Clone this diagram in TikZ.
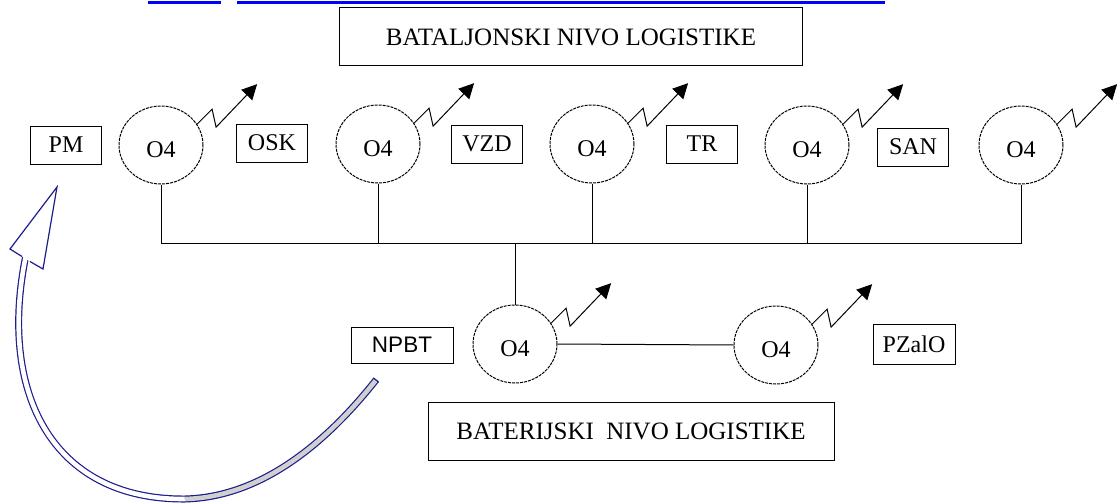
\documentclass[tikz,border=0pt]{standalone}
\usepackage{fontspec}
\setmainfont{Liberation Serif}
\newfontfamily\sansfont{Liberation Sans}
\usepackage{tikz}
\usetikzlibrary{arrows.meta,calc,shapes.geometric,positioning}

\definecolor{strelicaplava}{RGB}{28,28,140}
\definecolor{linkplava}{RGB}{0,0,255}
\definecolor{punjenje}{RGB}{208,208,208}

\tikzset{
  nivo/.style={draw, minimum height=58pt, inner sep=0pt, font=\fontsize{25}{28}\selectfont},
  oznaka/.style={draw, minimum width=71pt, minimum height=38pt, inner sep=0pt, font=\fontsize{24}{26}\selectfont},
  stanica/.style={draw, ellipse, dash pattern=on 3pt off 1pt, minimum width=84pt, minimum height=78pt, inner sep=0pt, text height=26pt, font=\fontsize{24}{26}\selectfont},
  radio/.style={-{Triangle[length=15pt,width=15pt]}},
  strelica/.style={draw=strelicaplava},
}

\begin{document}
\begin{tikzpicture}[x=1pt, y=-1pt, line width=1pt]
\useasboundingbox (0,0) rectangle (1117,503);

% ostatak linka
\draw[linkplava, line width=3pt] (148,3) -- (221,3);
\draw[linkplava, line width=3pt] (237,3) -- (885,3);

% nivoi
\node[nivo, minimum width=463pt] (bat) at (571,37) {BATALJONSKI NIVO LOGISTIKE};
\node[nivo, minimum width=406pt] (bter) at (631,431) {BATERIJSKI\ \ NIVO LOGISTIKE};

% stanice
\node[stanica] (c1) at (161,145) {O4};
\node[stanica] (c2) at (378,144) {O4};
\node[stanica] (c3) at (592,144) {O4};
\node[stanica] (c4) at (807,145) {O4};
\node[stanica] (c5) at (1021,145) {O4};
\node[stanica] (bA) at (515,344) {O4};
\node[stanica] (bB) at (776,345) {O4};

% oznake
\node[oznaka] (pm) at (66,145) {PM};
\node[oznaka] (osk) at (272,143) {OSK};
\node[oznaka] (vzd) at (487,144) {VZD};
\node[oznaka] (tr) at (702,144) {TR};
\node[oznaka] (san) at (913,147) {SAN};
\node[oznaka, minimum width=102pt, minimum height=36pt, font=\sansfont\fontsize{22.5}{25}\selectfont] (npbt) at (402,345) {NPBT};
\node[oznaka, minimum width=82pt, minimum height=40pt] (pzalo) at (914,344) {PZalO};

% veze
\coordinate (sab) at (0,243);
\draw (c1.south) -- (c1.south |- sab) -- (c5.south |- sab) -- (c5.south);
\foreach \c in {c2,c3,c4}
  \draw (\c.south) -- (\c.south |- sab);
\draw (bA.north) -- (bA.north |- sab);
\draw (bA.east) -- (bB.west);

% radio veze
\foreach \c in {c1,c2,c3,c4,c5,bA,bB}
  \draw[radio] (\c.30) -- ++(15,-15) -- ++(4,18) -- ++(41,-43);

% strelica NPBT -> PM
\coordinate (glava) at (26,255);
\coordinate (dno) at (185,499);
\coordinate (rep) at (376,380);
\draw[strelica, line width=7pt] (glava) .. controls (-2,390) and (50,500) .. (dno);
\draw[white, line width=4.6pt] (glava) .. controls (-2,390) and (50,500) .. (dno);
\draw[strelica, line width=7pt] (dno) .. controls (265,497) and (330,438) .. (rep);
\draw[punjenje, line width=4.6pt] (dno) .. controls (265,497) and (330,438) .. (rep);
\draw[strelica, line width=1.2pt] ($(rep)+(2.7,2.2)$) -- ($(rep)-(2.7,2.2)$);
\draw[strelica, fill=white, line width=1.2pt] (22,256.5) -- (10,249) -- (57,187) -- (43,269) -- (30,261.5);

\end{tikzpicture}
\end{document}
